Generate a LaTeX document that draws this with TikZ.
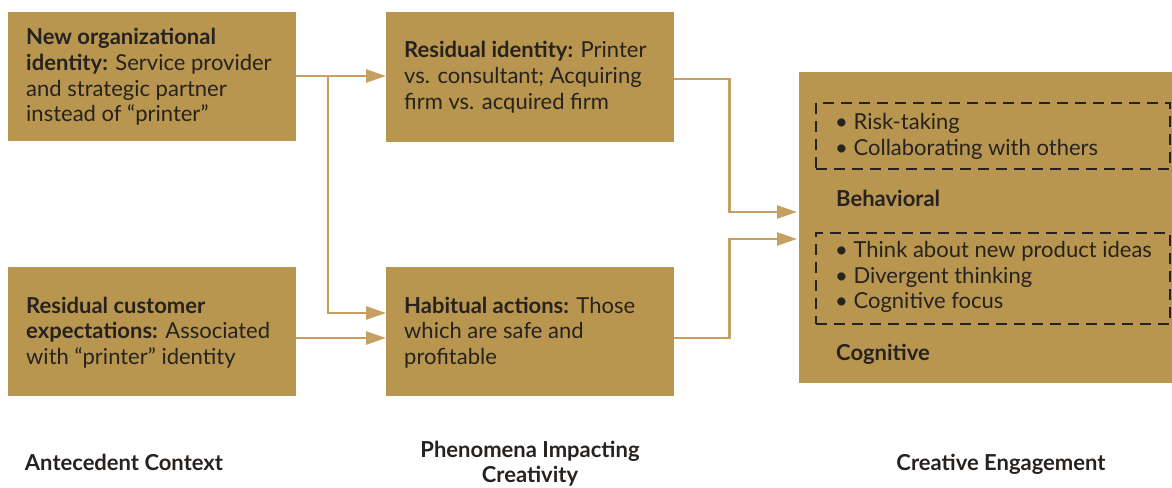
\documentclass[tikz,border=0pt]{standalone}
\usepackage{fontspec}
\setmainfont{Lato}
\usetikzlibrary{arrows.meta}
\definecolor{gold}{HTML}{B8964F}
\definecolor{goldline}{HTML}{C4A062}
\definecolor{ink}{HTML}{262220}
\begin{document}
\begin{tikzpicture}[x=1pt,y=-1pt,
  box/.style={fill=gold, draw=none, inner sep=0pt, anchor=north west},
  dbox/.style={draw=ink, line width=2.4pt, dash pattern=on 11pt off 7pt, inner sep=0pt, anchor=north west},
  txt/.style={anchor=base west, inner sep=0pt, align=left, text=ink, font=\fontsize{22}{25.5}\selectfont},
  lbl/.style={anchor=base, inner sep=0pt, align=center, text=ink, font=\fontsize{22}{25}\selectfont\bfseries},
  conn/.style={draw=goldline, line width=2.6pt},
  arr/.style={conn, -{Triangle[length=20pt,width=13pt]}}]
\useasboundingbox (0,0) rectangle (1172,487);
% boxes
\node[box, minimum width=288pt, minimum height=129pt] (b1) at (8,12) {};
\node[box, minimum width=288pt, minimum height=129pt] (b2) at (8,267) {};
\node[box, minimum width=288pt, minimum height=130pt] (b3) at (386,12) {};
\node[box, minimum width=288pt, minimum height=129pt] (b4) at (386,267) {};
\node[box, minimum width=373pt, minimum height=311pt] (big) at (799,72) {};
\node[dbox, minimum width=354pt, minimum height=66pt] (d1) at (815,102) {};
\node[dbox, minimum width=354pt, minimum height=91pt] (d2) at (815,232) {};
% texts
\node[txt] (t1) at (26,45) {\textbf{New organizational}};
\node[txt] (t1b) at (26,70.5) {\textbf{identity:} Service provider};
\node[txt] (t1c) at (26,96) {and strategic partner};
\node[txt] (t1d) at (26,121.5) {instead of “printer”};
\node[txt] (t2) at (26,313) {\textbf{Residual customer}};
\node[txt] (t2b) at (26,338.5) {\textbf{expectations:} Associated};
\node[txt] (t2c) at (26,364) {with “printer” identity};
\node[txt] (t3) at (404,58) {\textbf{Residual identity:} Printer};
\node[txt] (t3b) at (404,83.5) {vs. consultant; Acquiring};
\node[txt] (t3c) at (404,109) {firm vs. acquired firm};
\node[txt] (t4) at (404,313) {\textbf{Habitual actions:} Those};
\node[txt] (t4b) at (404,338.5) {which are safe and};
\node[txt] (t4c) at (404,364) {profitable};
\node[txt] (r1) at (835,129) {• Risk-taking};
\node[txt] (r2) at (835,155) {• Collaborating with others};
\node[txt] (beh) at (836,206) {\textbf{Behavioral}};
\node[txt] (r3) at (835,257) {• Think about new product ideas};
\node[txt] (r4) at (835,283) {• Divergent thinking};
\node[txt] (r5) at (835,308) {• Cognitive focus};
\node[txt] (cog) at (836,360) {\textbf{Cognitive}};
% bottom labels
\node[lbl] (l1) at (124,470) {Antecedent Context};
\node[lbl] (l2) at (530,482) {Phenomena Impacting\\Creativity};
\node[lbl] (l3) at (1001,470) {Creative Engagement};
% connectors
\coordinate (j1) at (328,76);
\draw[arr] ([yshift=-64pt]b1.north east) -- ([yshift=-64pt]b3.north west);
\draw[arr] (j1) |- ([yshift=-46pt]b4.north west);
\draw[arr] ([yshift=-71pt]b2.north east) -- ([yshift=-71pt]b4.north west);
\draw[arr] ([yshift=-67pt]b3.north east) -- ++(55,0) |- ([yshift=-140pt,xshift=-2pt]big.north west);
\draw[arr] ([yshift=-71pt]b4.north east) -- ++(55,0) |- ([yshift=-167pt,xshift=-2pt]big.north west);
\end{tikzpicture}
\end{document}
